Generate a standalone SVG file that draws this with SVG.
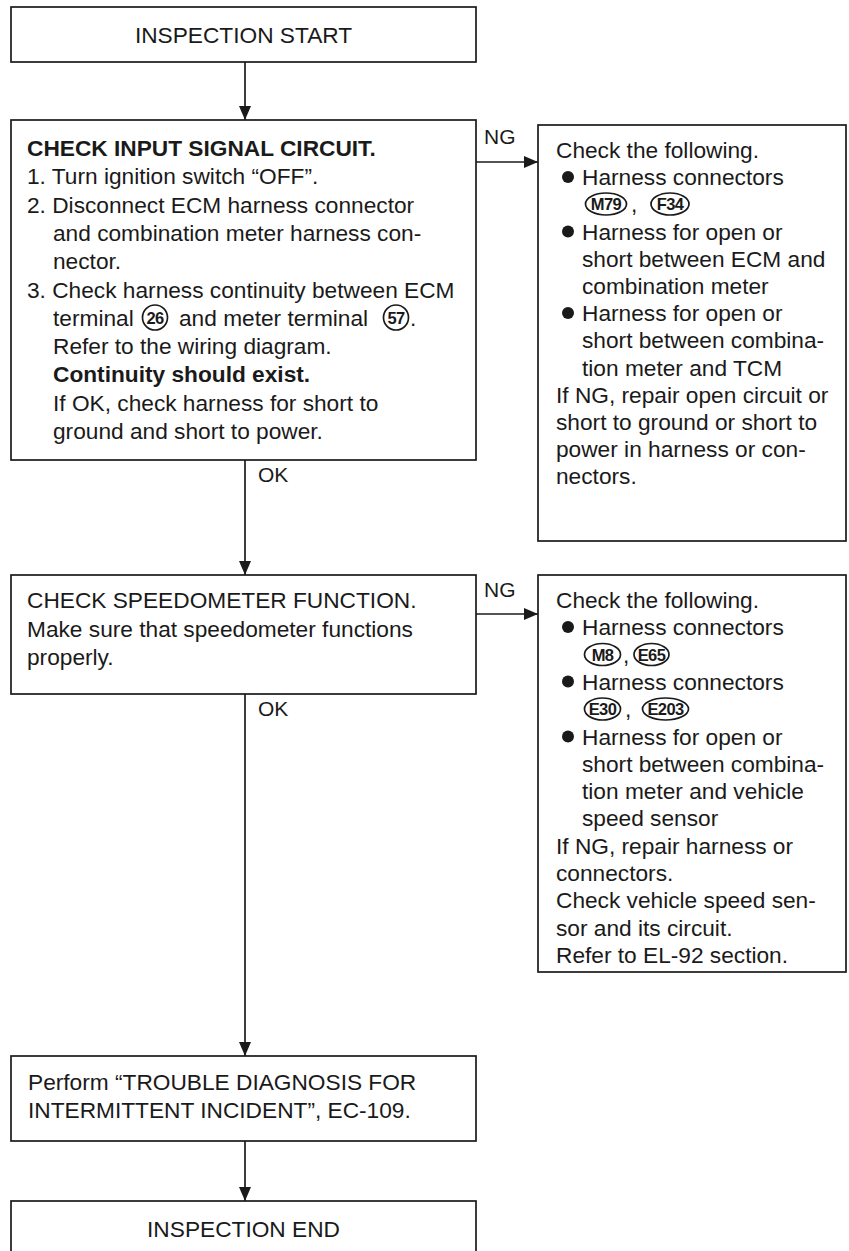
<svg xmlns="http://www.w3.org/2000/svg" width="849" height="1251" viewBox="0 0 849 1251">
  <defs>
    <style>
      .box { fill: #ffffff; stroke: #1a1a1a; stroke-width: 1.7; }
      .wire { fill: none; stroke: #1a1a1a; stroke-width: 1.7; }
      .t { font-family: "Liberation Sans", Arial, Helvetica, sans-serif; font-size: 22.7px; fill: #1a1a1a; }
      .b { font-weight: bold; }
      .lbl { font-family: "Liberation Sans", Arial, Helvetica, sans-serif; font-size: 21px; fill: #1a1a1a; }
      .mid { text-anchor: middle; }
      .dot { fill: #1a1a1a; }
      .ring { fill: none; stroke: #1a1a1a; stroke-width: 1.7; }
      .tag { font-family: "Liberation Sans", Arial, Helvetica, sans-serif; font-size: 16.5px; font-weight: bold; fill: #1a1a1a; text-anchor: middle; letter-spacing: -0.6px; }
    </style>
    <marker id="ah" viewBox="0 0 14 12" refX="14" refY="6" markerWidth="14" markerHeight="12" orient="auto" markerUnits="userSpaceOnUse">
      <path d="M0,0 L14,6 L0,12 z" fill="#1a1a1a"/>
    </marker>
  </defs>

  <!-- flow connectors -->
  <g id="connectors">
    <line class="wire" x1="245" y1="62" x2="245" y2="120" marker-end="url(#ah)"/>
    <line class="wire" x1="476" y1="162" x2="538" y2="162" marker-end="url(#ah)"/>
    <text class="lbl" x="484" y="144">NG</text>
    <line class="wire" x1="245" y1="460" x2="245" y2="575" marker-end="url(#ah)"/>
    <text class="lbl" x="258" y="482">OK</text>
    <line class="wire" x1="476" y1="614" x2="538" y2="614" marker-end="url(#ah)"/>
    <text class="lbl" x="484" y="597">NG</text>
    <line class="wire" x1="245" y1="694" x2="245" y2="1056" marker-end="url(#ah)"/>
    <text class="lbl" x="258" y="716">OK</text>
    <line class="wire" x1="245" y1="1141" x2="245" y2="1201" marker-end="url(#ah)"/>
  </g>

  <g id="start">
    <rect class="box" x="11" y="7" width="465" height="55"/>
    <text class="t mid" x="243.5" y="43">INSPECTION START</text>
  </g>

  <g id="check-input">
    <rect class="box" x="11" y="120" width="465" height="340"/>
    <text class="t b" x="27" y="156">CHECK INPUT SIGNAL CIRCUIT.</text>
    <text class="t" x="27" y="184.3">1. Turn ignition switch “OFF”.</text>
    <text class="t" x="27" y="212.6">2. Disconnect ECM harness connector</text>
    <text class="t" x="53" y="240.9">and combination meter harness con-</text>
    <text class="t" x="53" y="269.2">nector.</text>
    <text class="t" x="27" y="297.5">3. Check harness continuity between ECM</text>
    <text class="t" x="53" y="325.8">terminal</text>
    <circle class="ring" cx="155" cy="317.5" r="12.5"/>
    <text class="tag" x="155" y="323.5">26</text>
    <text class="t" x="179" y="325.8">and meter terminal</text>
    <circle class="ring" cx="396" cy="317.5" r="12.5"/>
    <text class="tag" x="396" y="323.5">57</text>
    <text class="t" x="410" y="325.8">.</text>
    <text class="t" x="53" y="354.1">Refer to the wiring diagram.</text>
    <text class="t b" x="53" y="382.4">Continuity should exist.</text>
    <text class="t" x="53" y="410.7">If OK, check harness for short to</text>
    <text class="t" x="53" y="439">ground and short to power.</text>
  </g>

  <g id="ng-input">
    <rect class="box" x="538" y="125" width="308" height="416"/>
    <text class="t" x="556" y="158">Check the following.</text>
    <circle class="dot" cx="568" cy="177" r="6"/>
    <text class="t" x="582" y="185.2">Harness connectors</text>
    <ellipse class="ring" cx="606" cy="204" rx="20.5" ry="11"/>
    <text class="tag" x="606" y="210">M79</text>
    <text class="t" x="631" y="212.4">,</text>
    <ellipse class="ring" cx="670" cy="204" rx="19" ry="11"/>
    <text class="tag" x="670" y="210">F34</text>
    <circle class="dot" cx="568" cy="231.5" r="6"/>
    <text class="t" x="582" y="239.6">Harness for open or</text>
    <text class="t" x="582" y="266.8">short between ECM and</text>
    <text class="t" x="582" y="294">combination meter</text>
    <circle class="dot" cx="568" cy="313" r="6"/>
    <text class="t" x="582" y="321.2">Harness for open or</text>
    <text class="t" x="582" y="348.4">short between combina-</text>
    <text class="t" x="582" y="375.6">tion meter and TCM</text>
    <text class="t" x="556" y="402.8">If NG, repair open circuit or</text>
    <text class="t" x="556" y="430">short to ground or short to</text>
    <text class="t" x="556" y="457.2">power in harness or con-</text>
    <text class="t" x="556" y="484.4">nectors.</text>
  </g>

  <g id="check-speedometer">
    <rect class="box" x="11" y="575" width="465" height="119"/>
    <text class="t" x="27" y="608">CHECK SPEEDOMETER FUNCTION.</text>
    <text class="t" x="27" y="636.5">Make sure that speedometer functions</text>
    <text class="t" x="27" y="665">properly.</text>
  </g>

  <g id="ng-speedometer">
    <rect class="box" x="538" y="575" width="308" height="397"/>
    <text class="t" x="556" y="608">Check the following.</text>
    <circle class="dot" cx="568" cy="627" r="6"/>
    <text class="t" x="582" y="635.3">Harness connectors</text>
    <ellipse class="ring" cx="602.5" cy="654.5" rx="18" ry="11"/>
    <text class="tag" x="602.5" y="660.5">M8</text>
    <text class="t" x="623" y="662.6">,</text>
    <ellipse class="ring" cx="651.5" cy="654.5" rx="17.5" ry="11"/>
    <text class="tag" x="651.5" y="660.5">E65</text>
    <circle class="dot" cx="568" cy="681.5" r="6"/>
    <text class="t" x="582" y="689.9">Harness connectors</text>
    <ellipse class="ring" cx="602.5" cy="709" rx="18" ry="11"/>
    <text class="tag" x="602.5" y="715">E30</text>
    <text class="t" x="625" y="717.2">,</text>
    <ellipse class="ring" cx="665.5" cy="709" rx="23" ry="11"/>
    <text class="tag" x="665.5" y="715">E203</text>
    <circle class="dot" cx="568" cy="736.5" r="6"/>
    <text class="t" x="582" y="744.5">Harness for open or</text>
    <text class="t" x="582" y="771.8">short between combina-</text>
    <text class="t" x="582" y="799.1">tion meter and vehicle</text>
    <text class="t" x="582" y="826.4">speed sensor</text>
    <text class="t" x="556" y="853.7">If NG, repair harness or</text>
    <text class="t" x="556" y="881">connectors.</text>
    <text class="t" x="556" y="908.3">Check vehicle speed sen-</text>
    <text class="t" x="556" y="935.6">sor and its circuit.</text>
    <text class="t" x="556" y="962.9">Refer to EL-92 section.</text>
  </g>

  <g id="intermittent">
    <rect class="box" x="11" y="1056" width="465" height="85"/>
    <text class="t" x="28" y="1090">Perform “TROUBLE DIAGNOSIS FOR</text>
    <text class="t" x="28" y="1118">INTERMITTENT INCIDENT”, EC-109.</text>
  </g>

  <g id="end">
    <rect class="box" x="11" y="1201" width="465" height="62"/>
    <text class="t mid" x="243.5" y="1237">INSPECTION END</text>
  </g>
</svg>
